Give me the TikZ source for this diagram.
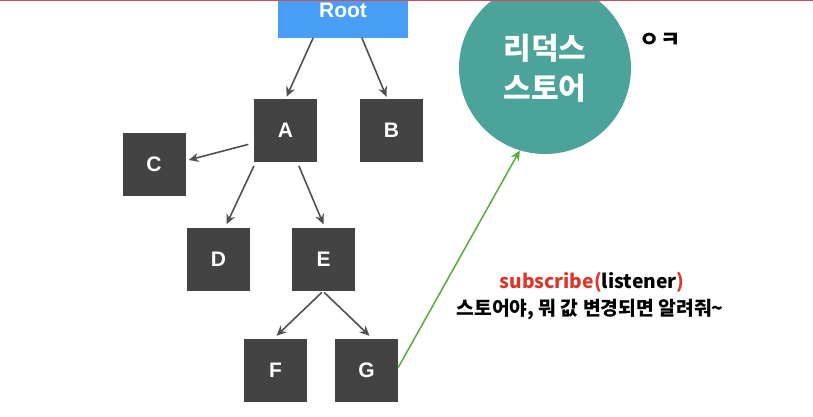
\documentclass[tikz,border=0pt]{standalone}
\usepackage{fontspec}
\setmainfont{Liberation Sans}
\newfontfamily\kr{Noto Sans CJK KR}
\usetikzlibrary{arrows.meta}

\begin{document}
\begin{tikzpicture}
	[x=1pt,y=-1pt,line cap=round,
	%Styles
	box/.style={fill=boxcolor,text=white,font=\bfseries\fontsize{21}{24}\selectfont,minimum size=63pt,inner sep=0pt},
	root box/.style={fill=rootcolor,text=white,font=\bfseries\fontsize{21}{24}\selectfont,minimum width=130pt,minimum height=56pt,inner sep=0pt},
	store/.style={circle,fill=storecolor,text=white,minimum size=172pt,inner sep=0pt,align=center,font=\kr\bfseries\fontsize{30}{40}\selectfont},
	link/.style={draw=linkcolor,line width=1.6pt,-{Stealth[length=10pt,width=9pt]}},
	listen/.style={draw=listencolor,line width=1.5pt,-{Stealth[length=10pt,width=9pt]}},
	say/.style={font=\kr\bfseries\fontsize{19.3}{22}\selectfont}
	]
	
	%Colors
	\definecolor{boxcolor}{HTML}{434343}
	\definecolor{rootcolor}{HTML}{489FF5}
	\definecolor{storecolor}{HTML}{4BA39A}
	\definecolor{linkcolor}{HTML}{505050}
	\definecolor{listencolor}{HTML}{5AAA3A}
	\definecolor{subred}{HTML}{D9382B}
	\definecolor{topline}{HTML}{C8505F}
	
	\clip (0,0) rectangle (813,416);
	
	%The graphic
	\node[root box] (root) at (343,10) {Root};
	\node[box] (a) at (285.5,130.5) {A};
	\node[box] (b) at (391.5,130.5) {B};
	\node[box] (c) at (154,164) {C};
	\node[box] (d) at (218.5,259) {D};
	\node[box] (e) at (323.5,259) {E};
	\node[box] (f) at (275.5,370.5) {F};
	\node[box] (g) at (366.5,370.5) {G};
	
	\node[store] (rs) at (545,68) {리덕스\\스토어};
	\node[font=\kr\bfseries\fontsize{22}{24}\selectfont] (ok) at (660,40) {ㅇㅋ};
	
	\draw[link] ([xshift=-30pt]root.south) -- ([xshift=1pt,yshift=2pt]a.north);
	\draw[link] ([xshift=19pt]root.south) -- ([xshift=-5pt,yshift=2pt]b.north);
	\draw[link] ([xshift=-6pt,yshift=-14pt]a.west) -- ([xshift=3pt,yshift=4pt]c.east);
	\draw[link] ([yshift=-4pt]a.south west) -- ([xshift=8pt,yshift=3pt]d.north);
	\draw[link] ([xshift=13.5pt,yshift=-4pt]a.south) -- ([yshift=3pt]e.north);
	\draw[link] ([xshift=-2pt,yshift=-2pt]e.south) -- ([xshift=1pt,yshift=3pt]f.north);
	\draw[link] ([xshift=1pt,yshift=-2pt]e.south) -- ([xshift=3pt,yshift=3pt]g.north);
	\draw[listen] ([yshift=3pt]g.east) -- (rs.253);
	
	\node[say] (sub) at (592,282) {\textcolor{subred}{subscribe(}listener\textcolor{subred}{)}};
	\node[say] (msg) at (590,310) {스토어야, 뭐 값 변경되면 알려줘\textasciitilde};
	
	\draw[topline,line width=2pt] (0,0) -- (813,0);
\end{tikzpicture}
\end{document}
